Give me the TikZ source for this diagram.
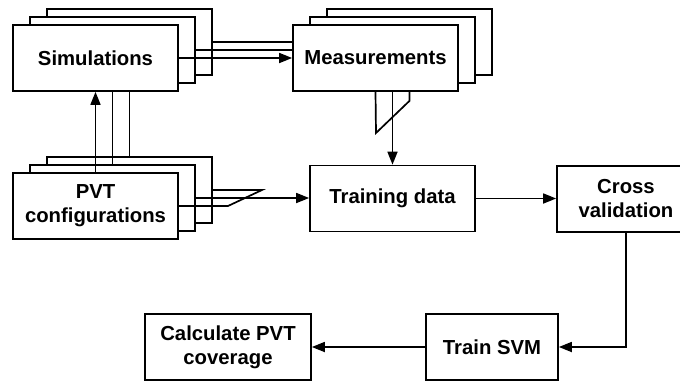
\documentclass[tikz,border=0pt]{standalone}
\usepackage{fontspec}
\setmainfont{Liberation Sans}
\usetikzlibrary{arrows.meta}
\begin{document}
\begin{tikzpicture}[x=1pt,y=-1pt,
  box/.style={draw,line width=1.7pt,fill=white,inner sep=0pt,align=center,
    minimum width=165pt,minimum height=66pt,
    font=\fontsize{20.3}{24}\selectfont\bfseries},
  conn/.style={line width=1.7pt},
  arr/.style={line width=1.7pt,-{Triangle[length=13pt,width=10pt]}}]
\clip (0,0) rectangle (680,381);
% Simulations stack
\node[box] (sb) at (129.5,42) {};
\node[box] (sm) at (112.5,50) {};
\node[box] (sf) at (95.5,58) {Simulations};
% Measurements stack
\node[box] (mb) at (409.5,42) {};
\node[box] (mm) at (392.5,50) {};
\node[box] (mf) at (375.5,58) {Measurements};
% PVT stack
\node[box] (pb) at (129.5,190) {};
\node[box] (pm) at (112.5,198) {};
\node[box] (pf) at (95.5,206) {PVT\\configurations};
% others
\node[box] (td) at (392.5,198.5) {Training data};
\node[box,minimum width=138pt] (cv) at (626,199) {Cross\\validation};
\node[box,minimum width=132pt] (ts) at (492,347) {Train SVM};
\node[box,minimum width=166pt] (cc) at (228,347) {Calculate PVT\\coverage};
% Simulations -> Measurements
\draw[conn] (sb.east) -- (sb.east -| mf.west);
\draw[conn] (sm.east) -- (sm.east -| mf.west);
\draw[arr] (sf.east) -- (sf.east -| mf.west);
% PVT -> Simulations
\draw[arr] (pf.north) -- (pf.north |- sf.south);
\draw[conn] (pm.north) -- (pm.north |- sf.south);
\draw[conn] (pb.north) -- (pb.north |- sf.south);
% Measurements -> Training data
\coordinate (mk) at (376,133);
\draw[conn] (mb.south |- mf.south) -- ++(0,9) -- (mk) -- (mf.south);
\draw[arr] (mf.south -| td.north) -- (td.north);
% PVT -> Training data
\coordinate (pk1) at (262,190);
\coordinate (pk2) at (228,206);
\draw[conn] (pb.east) -- (pk1) -- (pk2) -- (pf.east);
\draw[arr] (pm.east) -- (pm.east -| td.west);
% chain
\draw[arr] (td.east) -- (td.east -| cv.west);
\draw[arr] (cv.south) -- (cv.south |- ts.east) -- (ts.east);
\draw[arr] (ts.west) -- (cc.east);
\end{tikzpicture}
\end{document}
